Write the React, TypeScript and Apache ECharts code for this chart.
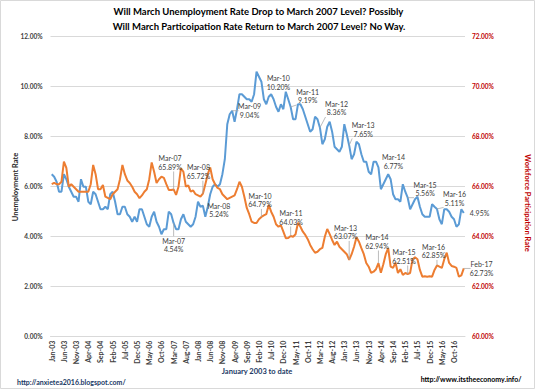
import { useEffect, useRef } from "react";
import * as echarts from "echarts";

const TITLE_LINES = [
  "Will March Unemployment Rate Drop to March 2007 Level? Possibly",
  "Will March Particoipation Rate Return to March 2007 Level? No Way.",
];
const LEFT_AXIS_NAME = "Unemployment Rate";
const RIGHT_AXIS_NAME = "Workforce Participation Rate";
const X_AXIS_NAME = "January 2003 to date";
const FOOTER_LEFT = "http://anxietea2016.blogspot.com/";
const FOOTER_RIGHT = "http://www.itstheeconomy.info/";

const MONTHS = ["Jan", "Feb", "Mar", "Apr", "May", "Jun", "Jul", "Aug", "Sep", "Oct", "Nov", "Dec"];
const YEARS = ["03", "04", "05", "06", "07", "08", "09", "10", "11", "12", "13", "14", "15", "16", "17"];
const LAST_YEAR_MONTHS = 2; // data through Feb-17
const categories: string[] = [];
YEARS.forEach((y, yi) => {
  const n = yi === YEARS.length - 1 ? LAST_YEAR_MONTHS : 12;
  for (let m = 0; m < n; m++) categories.push(`${MONTHS[m]}-${y}`);
});

// Unemployment rate (not seasonally adjusted), %
const unemployment = [
  6.5, 6.4, 6.2, 5.8, 5.8, 6.5, 6.3, 6.0, 5.8, 5.6, 5.6, 5.4,
  6.3, 6.0, 6.0, 5.4, 5.3, 5.8, 5.7, 5.4, 5.1, 5.1, 5.2, 5.1,
  5.7, 5.8, 5.4, 4.9, 4.9, 5.2, 5.2, 4.9, 4.8, 4.6, 4.8, 4.6,
  5.1, 5.1, 4.8, 4.5, 4.4, 4.8, 5.0, 4.6, 4.4, 4.1, 4.3, 4.3,
  5.0, 4.9, 4.54, 4.3, 4.3, 4.7, 4.9, 4.6, 4.5, 4.4, 4.5, 4.8,
  5.4, 5.2, 5.24, 4.8, 5.2, 5.7, 6.0, 6.1, 6.0, 6.1, 6.5, 7.1,
  8.5, 8.9, 9.04, 8.6, 9.1, 9.7, 9.7, 9.6, 9.5, 9.5, 9.4, 9.7,
  10.6, 10.4, 10.2, 9.5, 9.3, 9.6, 9.7, 9.5, 9.2, 9.0, 9.3, 9.1,
  9.8, 9.5, 9.19, 8.7, 8.7, 9.3, 9.3, 9.1, 8.8, 8.5, 8.2, 8.3,
  8.8, 8.7, 8.36, 7.7, 7.9, 8.4, 8.6, 8.2, 7.6, 7.5, 7.4, 7.6,
  8.5, 8.1, 7.65, 7.1, 7.3, 7.8, 7.7, 7.3, 7.0, 7.0, 6.6, 6.5,
  7.0, 7.0, 6.77, 5.9, 6.1, 6.3, 6.5, 6.3, 5.7, 5.5, 5.5, 5.4,
  6.1, 5.8, 5.56, 5.1, 5.3, 5.5, 5.6, 5.2, 4.9, 4.8, 4.8, 4.8,
  5.3, 5.2, 5.11, 4.7, 4.5, 5.1, 5.1, 5.0, 4.8, 4.7, 4.4, 4.5,
  5.1, 4.95,
];

// Labor force participation rate (not seasonally adjusted), %
const participation = [
  66.1, 66.15, 66.1, 66.1, 66.2, 67.0, 66.75, 66.0, 66.1, 66.0, 65.9, 65.8,
  65.8, 65.8, 65.8, 65.8, 66.1, 66.87, 66.5, 65.9, 65.9, 66.07, 65.6, 65.55,
  65.5, 65.7, 65.8, 65.9, 66.3, 66.87, 66.5, 66.25, 66.15, 66.0, 65.8, 65.7,
  65.54, 65.65, 65.8, 65.9, 66.3, 66.97, 66.6, 66.15, 66.3, 66.4, 66.35, 66.1,
  65.87, 65.87, 65.89, 65.67, 66.0, 66.74, 66.6, 66.0, 66.05, 65.8, 65.85, 65.7,
  65.65, 65.6, 65.72, 66.1, 66.5, 66.77, 66.3, 66.1, 65.95, 65.9, 65.7, 65.6,
  65.5, 65.55, 65.6, 65.65, 65.9, 66.2, 66.0, 65.6, 65.15, 64.9, 64.6, 64.55,
  64.55, 64.7, 64.79, 64.85, 64.9, 65.27, 65.0, 64.8, 64.5, 64.4, 64.45, 64.2,
  63.94, 63.95, 64.03, 64.0, 64.1, 64.56, 64.4, 64.2, 64.07, 63.9, 63.67, 63.5,
  63.36, 63.4, 63.5, 63.55, 64.0, 64.31, 64.1, 63.87, 63.67, 63.8, 63.6, 63.5,
  63.4, 63.3, 63.07, 63.3, 63.6, 63.98, 63.8, 63.54, 63.3, 62.95, 62.8, 62.55,
  62.6, 62.7, 62.94, 62.56, 62.9, 63.3, 63.54, 62.8, 62.75, 62.96, 62.55, 62.7,
  62.47, 62.55, 62.51, 62.55, 63.1, 63.18, 63.1, 62.67, 62.4, 62.42, 62.4, 62.42,
  62.4, 62.67, 62.85, 62.8, 62.75, 63.1, 63.36, 62.95, 62.83, 62.8, 62.75, 62.4,
  62.45, 62.73,
];

// Annotated points
const unempNoteMonths = ["Mar-07", "Mar-08", "Mar-09", "Mar-10", "Mar-11", "Mar-12", "Mar-13", "Mar-14", "Mar-15", "Mar-16", "Feb-17"];
const unempNoteTexts = ["Mar-07\n4.54%", "Mar-08\n5.24%", "Mar-09\n9.04%", "Mar-10\n10.20%", "Mar-11\n9.19%", "Mar-12\n8.36%", "Mar-13\n7.65%", "Mar-14\n6.77%", "Mar-15\n5.56%", "Mar-16\n5.11%", "4.95%"];
const partNoteMonths = ["Mar-07", "Mar-08", "Mar-10", "Mar-11", "Mar-13", "Mar-14", "Mar-15", "Mar-16", "Feb-17"];
const partNoteTexts = ["Mar-07\n65.89%", "Mar-08\n65.72%", "Mar-10\n64.79%", "Mar-11\n64.03%", "Mar-13\n63.07%", "Mar-14\n62.94%", "Mar-15\n62.51%", "Mar-16\n62.85%", "Feb-17\n62.73%"];

// Label offsets (px) from the data point to the label centre
const unempNoteOffsets = [[0, 22], [16, 4.5], [17.4, 0], [17, 1], [17, -11], [16.6, -19.7], [14, -16], [15, -6], [17.4, -8.7], [17.6, -10.5], [15.8, 0]];
const partNoteOffsets = [[-3.6, -27], [-4.4, -22], [-1.4, -17], [0.4, -18.5], [-3.6, -28], [-1.4, -21.7], [-3.6, -17.5], [-3.4, -14.5], [17.8, 0]];

const FONT = "Lato, 'Noto Sans', 'DejaVu Sans', sans-serif";
const BLUE = "#5B9BD5";
const ORANGE = "#ED7D31";
const RED = "#C00000";
const NAVY = "#203864";
const GRID = "#D9D9D9";

export default function App() {
  const ref = useRef<HTMLDivElement>(null);

  useEffect(() => {
    const el = ref.current!;
    const chart = echarts.init(el, null, { renderer: "svg" });
    const tickLabel = {
      fontFamily: FONT,
      fontSize: 6.5,
      fontWeight: "bold" as const,
    };
    chart.setOption({
      animation: false,
      backgroundColor: "#ffffff",
      grid: { left: 50.5, right: 70, top: 36.7, bottom: 52.3, containLabel: false },
      xAxis: {
        type: "category",
        data: categories,
        boundaryGap: true,
        axisTick: { show: false },
        axisLine: { show: true, lineStyle: { color: GRID, width: 1 } },
        axisLabel: {
          interval: 4,
          rotate: 90,
          margin: 4,
          color: "#404040",
          fontFamily: FONT,
          fontSize: 7,
          fontWeight: "bold",
        },
        splitLine: { show: false },
      },
      yAxis: [
        {
          type: "value",
          min: 0,
          max: 12,
          interval: 2,
          axisLine: { show: false },
          axisTick: { show: false },
          splitLine: { show: true, lineStyle: { color: GRID, width: 1 } },
          axisLabel: { ...tickLabel, color: "#404040", margin: 8, formatter: (v: number) => v.toFixed(2) + "%" },
        },
        {
          type: "value",
          min: 60,
          max: 72,
          interval: 2,
          position: "right",
          axisLine: { show: false },
          axisTick: { show: false },
          splitLine: { show: false },
          axisLabel: { ...tickLabel, color: RED, margin: 7, formatter: (v: number) => v.toFixed(2) + "%" },
        },
      ],
      series: [
        {
          name: LEFT_AXIS_NAME,
          type: "line",
          yAxisIndex: 0,
          data: unemployment,
          showSymbol: false,
          symbol: "none",
          lineStyle: { color: BLUE, width: 2 },
          itemStyle: { color: BLUE },
          z: 2,
        },
        {
          name: RIGHT_AXIS_NAME,
          type: "line",
          yAxisIndex: 1,
          data: participation,
          showSymbol: false,
          symbol: "none",
          lineStyle: { color: ORANGE, width: 2 },
          itemStyle: { color: ORANGE },
          z: 3,
        },
      ],
    });

    const graphics: any[] = [];
    const noteFont = `7px ${FONT}`;
    const addNotes = (months: string[], texts: string[], offsets: number[][], values: number[], yAxisIndex: number) => {
      months.forEach((m, i) => {
        const idx = categories.indexOf(m);
        const [px, py] = chart.convertToPixel({ xAxisIndex: 0, yAxisIndex }, [idx, values[idx]]) as number[];
        const [dx, dy] = offsets[i];
        const cx = px + dx;
        const cy = py + dy;
        const lines = texts[i].split("\n").length;
        const w = texts[i].includes("10.20") || texts[i].includes("%\n") ? 24 : 22;
        const h = lines * 8.5 + 1;
        // leader line to the nearest point of the label box
        const nx = Math.min(Math.max(px, cx - w / 2), cx + w / 2);
        const ny = Math.min(Math.max(py, cy - h / 2), cy + h / 2);
        const dist = Math.hypot(nx - px, ny - py);
        if (dist > 5) {
          graphics.push({
            type: "line",
            silent: true,
            z: 50,
            shape: { x1: px, y1: py, x2: nx, y2: ny },
            style: { stroke: "#A6A6A6", lineWidth: 0.75 },
          });
        }
        graphics.push({
          type: "text",
          silent: true,
          z: 60,
          x: cx,
          y: cy,
          style: {
            text: texts[i],
            font: noteFont,
            fill: "#404040",
            align: "center",
            verticalAlign: "middle",
            lineHeight: 8.5,
          },
        });
      });
    };
    addNotes(unempNoteMonths, unempNoteTexts, unempNoteOffsets, unemployment, 0);
    addNotes(partNoteMonths, partNoteTexts, partNoteOffsets, participation, 1);

    const staticGraphics = [
      {
        type: "rect",
        silent: true,
        z: 0,
        shape: { x: 0.5, y: 0.5, width: 534, height: 388 },
        style: { fill: "none", stroke: GRID, lineWidth: 1 },
      },
      {
        type: "text",
        silent: true,
        x: 258.5,
        y: 11.7,
        style: { text: TITLE_LINES[0], font: `bold 9.5px ${FONT}`, fill: "#000000", align: "center", verticalAlign: "middle" },
      },
      {
        type: "text",
        silent: true,
        x: 259,
        y: 26,
        style: { text: TITLE_LINES[1], font: `bold 9.5px ${FONT}`, fill: "#000000", align: "center", verticalAlign: "middle" },
      },
      {
        type: "text",
        silent: true,
        x: 15,
        y: 187,
        rotation: Math.PI / 2,
        style: { text: LEFT_AXIS_NAME, font: `bold 7.5px ${FONT}`, fill: "#262626", align: "center", verticalAlign: "middle" },
      },
      {
        type: "text",
        silent: true,
        x: 527,
        y: 203,
        rotation: -Math.PI / 2,
        style: { text: RIGHT_AXIS_NAME, font: `bold 7.5px ${FONT}`, fill: RED, align: "center", verticalAlign: "middle" },
      },
      {
        type: "text",
        silent: true,
        x: 257,
        y: 371,
        style: { text: X_AXIS_NAME, font: `bold 7.5px ${FONT}`, fill: NAVY, align: "center", verticalAlign: "middle" },
      },
      {
        type: "text",
        silent: true,
        x: 17,
        y: 381.7,
        style: { text: FOOTER_LEFT, font: `bold 7px ${FONT}`, fill: NAVY, align: "left", verticalAlign: "middle" },
      },
      {
        type: "text",
        silent: true,
        x: 521.5,
        y: 379.3,
        style: { text: FOOTER_RIGHT, font: `bold 7px ${FONT}`, fill: "#000000", align: "right", verticalAlign: "middle" },
      },
    ];

    chart.setOption({ graphic: [...staticGraphics, ...graphics] });

    return () => {
      chart.dispose();
    };
  }, []);

  return (
    <div
      ref={ref}
      style={{ position: "fixed", left: 0, top: 0, width: 535, height: 389, background: "#fff" }}
    />
  );
}
